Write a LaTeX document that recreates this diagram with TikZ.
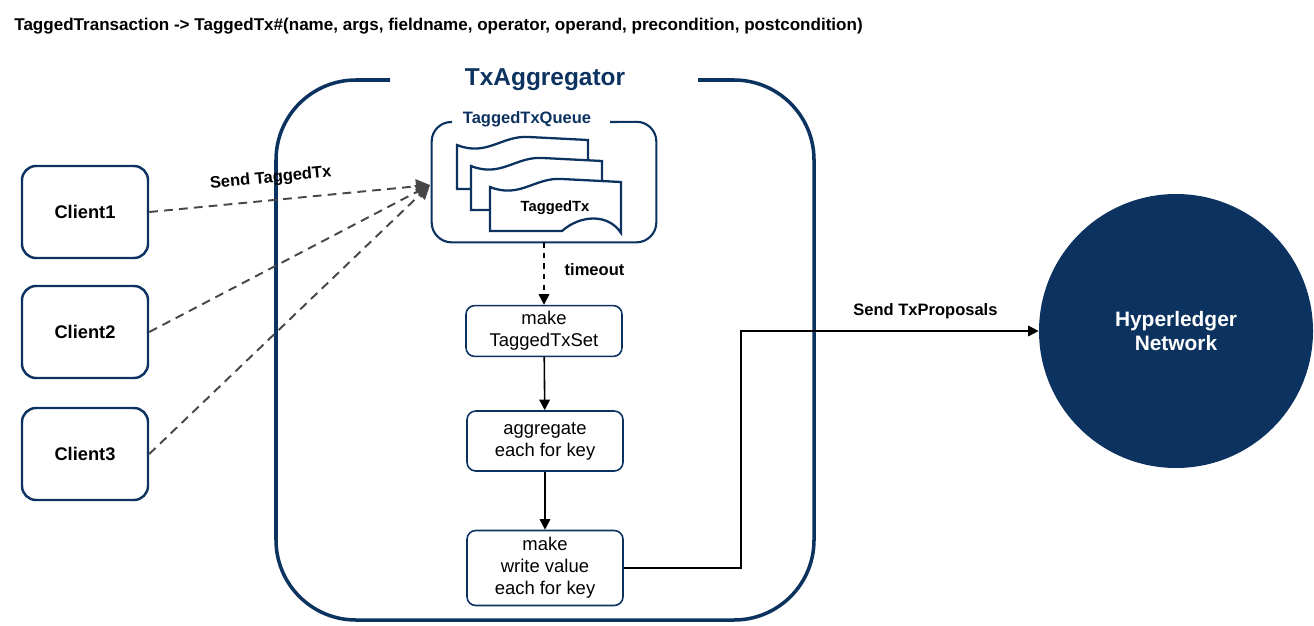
\documentclass[tikz,border=0pt]{standalone}
\usepackage{fontspec}
\setmainfont{Liberation Sans}
\usepackage{tikz}
\usetikzlibrary{calc, arrows.meta, positioning}

\definecolor{navy}{HTML}{0C3260}
\definecolor{dashgray}{HTML}{474747}

\def\px{0.02cm}

\tikzset{
	client/.style = {draw=navy, line width=1.4pt, rounded corners=8pt,
		minimum width=126*\px, minimum height=92*\px,
		font=\bfseries\fontsize{10.4}{12}\selectfont},
	stepbox/.style = {draw=navy, line width=0.9pt, rounded corners=5pt,
		minimum width=156*\px, align=center,
		font=\fontsize{10.5}{12.5}\selectfont},
	lbl/.style = {text=black, font=\bfseries\fontsize{9.4}{11}\selectfont},
	send/.style = {dashgray, dash pattern=on 5pt off 3.5pt, line width=1.1pt,
		-{Triangle[length=8pt, width=8pt]}},
	flow/.style = {line width=0.9pt, -{Triangle[length=6pt, width=6pt]}},
	txdoc/.pic = {
		\filldraw[fill=white, draw=navy, line width=1.3pt]
			(0,0) .. controls (30,12) and (45,-10) .. (72,-8) -- (131,-5)
			-- (131,46) .. controls (118,26) and (90,28) .. (72,44)
			-- (0,44) -- cycle;
	}
}

\begin{document}
\begin{tikzpicture}[x=0.02cm, y=-0.02cm]
	\useasboundingbox (0,0) rectangle (1314,625);

	%title line
	\node [anchor=west, inner sep=0, font=\bfseries\fontsize{9.7}{11}\selectfont] (head) at (14,26)
		{TaggedTransaction -> TaggedTx\#(name, args, fieldname, operator, operand, precondition, postcondition)};

	%aggregator frame
	\draw [navy, line width=2pt, rounded corners=80*\px]
		(698,80) -- (814,80) -- (814,620) -- (276,620) -- (276,80) -- (390,80);
	\node [navy, font=\bfseries\fontsize{13.9}{16}\selectfont] (txagg) at (545,80) {TxAggregator};

	%queue
	\node [minimum width=224*\px, minimum height=120*\px] (queue) at (544,182) {};
	\draw [navy, line width=1.2pt, rounded corners=20*\px]
		(610,122) -- (queue.north east) -- (queue.south east)
		-- (queue.south west) -- (queue.north west) -- (452,122);
	\node [navy, font=\bfseries\fontsize{9.4}{11}\selectfont] (qlbl) at (527,119) {TaggedTxQueue};

	\pic at (457,145) {txdoc};
	\pic at (471,166) {txdoc};
	\pic at (490,187) {txdoc};
	\node [font=\bfseries\fontsize{8.4}{10}\selectfont] (tx) at (555,208) {TaggedTx};

	%clients
	\node [client] (c1) at (85,212) {Client1};
	\node [client] (c2) at (85,332) {Client2};
	\node [client] (c3) at (85,454) {Client3};

	\coordinate (qin) at (430,185);
	\draw [send] (c1.east) -- node [lbl, sloped, above=4pt, pos=0.44] {Send TaggedTx} (qin);
	\draw [send] (c2.east) -- (qin);
	\draw [send] (c3.east) -- (qin);

	%steps
	\node [stepbox, minimum height=50*\px] (mk) at (544,331) {make\\TaggedTxSet};
	\node [stepbox, minimum height=60*\px] (agg) at (545,441) {aggregate\\each for key};
	\node [stepbox, minimum height=75*\px] (wr) at (545,568) {make\\write value\\each for key};

	\draw [flow, dashed] (queue.south) -- node [lbl, right=8pt, yshift=2pt] {timeout} (mk.north);
	\draw [flow] (mk) -- (agg);
	\draw [flow] (agg) -- (wr);

	%network
	\node [circle, fill=navy, text=white, align=center, minimum size=274*\px,
		font=\bfseries\fontsize{11.9}{14}\selectfont] (hl) at (1176,331) {Hyperledger\\Network};

	\draw [flow] (wr.east) -- ++(117,0) |- node [lbl, above=3pt, pos=0.81] {Send TxProposals} (hl.west);

\end{tikzpicture}
\end{document}
